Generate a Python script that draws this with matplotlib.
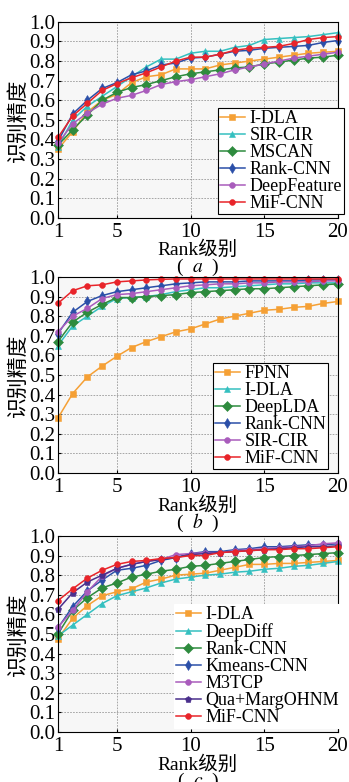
import numpy as np
import matplotlib
matplotlib.use("Agg")
import matplotlib.pyplot as plt

# ── Data ──
ranks = list(range(1, 21))

# (a)
a_labels = ["I-DLA", "SIR-CIR", "MSCAN", "Rank-CNN", "DeepFeature", "MiF-CNN"]
a_idla = [0.35, 0.44, 0.54, 0.60, 0.63, 0.69, 0.72, 0.73, 0.76, 0.76,
          0.76, 0.78, 0.79, 0.80, 0.81, 0.82, 0.83, 0.84, 0.845, 0.85]
a_sircir = [0.36, 0.50, 0.57, 0.62, 0.67, 0.72, 0.77, 0.81, 0.81, 0.84,
            0.85, 0.85, 0.87, 0.88, 0.91, 0.915, 0.92, 0.925, 0.935, 0.945]
a_mscan = [0.37, 0.45, 0.525, 0.60, 0.64, 0.665, 0.68, 0.70, 0.72, 0.735,
           0.745, 0.755, 0.765, 0.77, 0.785, 0.795, 0.805, 0.815, 0.82, 0.83]
a_rankcnn = [0.39, 0.53, 0.60, 0.66, 0.69, 0.73, 0.75, 0.78, 0.79, 0.815,
             0.82, 0.835, 0.85, 0.855, 0.865, 0.87, 0.875, 0.88, 0.895, 0.905]
a_deepfeat = [0.38, 0.48, 0.535, 0.58, 0.61, 0.625, 0.65, 0.68, 0.695, 0.705,
              0.72, 0.735, 0.755, 0.77, 0.785, 0.80, 0.815, 0.825, 0.835, 0.845]
a_mif = [0.41, 0.52, 0.585, 0.65, 0.685, 0.715, 0.74, 0.77, 0.80, 0.82,
         0.82, 0.835, 0.855, 0.865, 0.87, 0.875, 0.89, 0.91, 0.92, 0.925]

# (b)
b_labels = ["FPNN", "I-DLA", "DeepLDA", "Rank-CNN", "SIR-CIR", "MiF-CNN"]
b_fpnn = [0.28, 0.405, 0.49, 0.545, 0.595, 0.64, 0.67, 0.695, 0.72, 0.735,
          0.76, 0.785, 0.80, 0.815, 0.83, 0.835, 0.845, 0.85, 0.865, 0.875]
b_idla = [0.65, 0.75, 0.80, 0.85, 0.89, 0.895, 0.90, 0.91, 0.925, 0.935,
          0.945, 0.945, 0.95, 0.955, 0.96, 0.965, 0.965, 0.97, 0.97, 0.97]
b_deeplda = [0.67, 0.77, 0.82, 0.86, 0.895, 0.895, 0.90, 0.905, 0.91, 0.92,
             0.925, 0.93, 0.935, 0.94, 0.94, 0.945, 0.95, 0.955, 0.96, 0.965]
b_rankcnn = [0.71, 0.82, 0.875, 0.905, 0.925, 0.935, 0.945, 0.955, 0.965, 0.97,
             0.975, 0.975, 0.975, 0.98, 0.98, 0.98, 0.98, 0.985, 0.985, 0.985]
b_sircir = [0.72, 0.80, 0.84, 0.89, 0.91, 0.915, 0.925, 0.935, 0.945, 0.955,
            0.96, 0.965, 0.965, 0.97, 0.97, 0.975, 0.975, 0.975, 0.98, 0.98]
b_mif = [0.865, 0.93, 0.955, 0.96, 0.975, 0.98, 0.985, 0.988, 0.99, 0.99,
         0.99, 0.99, 0.99, 0.99, 0.99, 0.99, 0.99, 0.99, 0.99, 0.99]

# (c)
c_labels = ["I-DLA", "DeepDiff", "Rank-CNN", "Kmeans-CNN", "M3TCP",
            "Qua+MargOHNM", "MiF-CNN"]
c_idla = [0.475, 0.58, 0.645, 0.695, 0.715, 0.73, 0.765, 0.78, 0.80, 0.805,
          0.81, 0.825, 0.84, 0.855, 0.855, 0.86, 0.86, 0.865, 0.87, 0.875]
c_deepdiff = [0.49, 0.545, 0.60, 0.655, 0.695, 0.715, 0.735, 0.76, 0.78, 0.79,
              0.80, 0.805, 0.815, 0.82, 0.83, 0.835, 0.845, 0.85, 0.86, 0.87]
c_rankcnn = [0.50, 0.62, 0.685, 0.735, 0.76, 0.79, 0.805, 0.82, 0.83, 0.845,
             0.85, 0.86, 0.87, 0.88, 0.89, 0.895, 0.90, 0.905, 0.91, 0.915]
c_kmeans = [0.53, 0.64, 0.72, 0.775, 0.825, 0.835, 0.85, 0.875, 0.89, 0.91,
            0.92, 0.92, 0.93, 0.935, 0.945, 0.945, 0.95, 0.955, 0.955, 0.96]
c_m3tcp = [0.535, 0.62, 0.715, 0.795, 0.835, 0.855, 0.87, 0.88, 0.905, 0.91,
           0.915, 0.915, 0.925, 0.93, 0.935, 0.94, 0.945, 0.95, 0.96, 0.965]
c_qua = [0.625, 0.71, 0.765, 0.80, 0.835, 0.855, 0.87, 0.88, 0.89, 0.905,
         0.91, 0.915, 0.92, 0.925, 0.93, 0.935, 0.94, 0.945, 0.945, 0.95]
c_mif = [0.67, 0.73, 0.785, 0.825, 0.855, 0.87, 0.875, 0.885, 0.89, 0.90,
         0.90, 0.915, 0.92, 0.925, 0.93, 0.93, 0.935, 0.935, 0.94, 0.945]

# ── Styles ──
ORANGE = ("#f5a035", "s")
CYAN = ("#35c0c0", "^")
GREEN = ("#2e8b3e", "D")
BLUE = ("#2b4fa8", "d")
PURPLE = ("#a95cbc", "o")
RED = ("#e8242a", "o")
DPURPLE = ("#4a2f8c", "p")

FONT = ["Liberation Serif", "Noto Sans CJK SC"]
plt.rcParams.update({
    "font.family": FONT,
    "mathtext.fontset": "stix",
    "font.size": 14,
})

panels = [
    ([a_idla, a_sircir, a_mscan, a_rankcnn, a_deepfeat, a_mif], a_labels,
     [ORANGE, CYAN, GREEN, BLUE, PURPLE, RED], 0.972, 0.571, "a", True),
    ([b_fpnn, b_idla, b_deeplda, b_rankcnn, b_sircir, b_mif], b_labels,
     [ORANGE, CYAN, GREEN, BLUE, PURPLE, RED], 0.6458, 0.553, "b", True),
    ([c_idla, c_deepdiff, c_rankcnn, c_kmeans, c_m3tcp, c_qua, c_mif], c_labels,
     [ORANGE, CYAN, GREEN, BLUE, PURPLE, DPURPLE, RED], 0.3146, 0.414, "c", False),
]

fig = plt.figure(figsize=(3.49, 7.82), dpi=100)
AX_L, AX_W, AX_H = 0.166, 0.802, 0.2505

for series, labels, styles, top, leg_x, tag, framed in panels:
    ax = fig.add_axes([AX_L, top - AX_H, AX_W, AX_H])
    ax.set_facecolor("#f7f7f7")
    for vals, lbl, (col, mk) in zip(series, labels, styles):
        ms = 4.2 if mk in ("o", "s") else 4.6
        if mk == "d":
            ms = 5.2
        ax.plot(ranks, vals, color=col, marker=mk, markersize=ms,
                linewidth=1.1, label=lbl, markeredgewidth=0.4,
                markeredgecolor=col, clip_on=False)
    ax.set_xlim(1, 20)
    ax.set_ylim(0, 1.0)
    ax.set_xticks([1, 5, 10, 15, 20])
    ax.set_yticks(np.arange(0, 1.01, 0.1))
    ax.set_yticklabels([f"{v:.1f}" for v in np.arange(0, 1.01, 0.1)])
    ax.tick_params(direction="in", length=2, labelsize=15, pad=2)
    ax.tick_params(axis="x", pad=4)
    ax.grid(True, color="#999999", linestyle=(0, (2, 1.5)), linewidth=0.6)
    for s in ax.spines.values():
        s.set_color("black")
        s.set_linewidth(0.8)
    ax.set_ylabel("识别精度", fontsize=15, labelpad=0)
    ax.set_xlabel("Rank级别", fontsize=14, labelpad=-1)
    leg = ax.legend(loc="lower left", bbox_to_anchor=(leg_x, 0.02),
                    fontsize=13, frameon=True, fancybox=False,
                    edgecolor="black" if framed else "white",
                    framealpha=1.0, borderpad=0.1,
                    labelspacing=0.0, handlelength=1.4, handletextpad=0.25,
                    borderaxespad=0.0)
    leg.get_frame().set_linewidth(0.8)
    ax.text(0.5, -0.255, f"(  $\\mathit{{{tag}}}$  )", transform=ax.transAxes,
            ha="center", va="center", fontsize=14)

fig.savefig("out.png", dpi=100)
